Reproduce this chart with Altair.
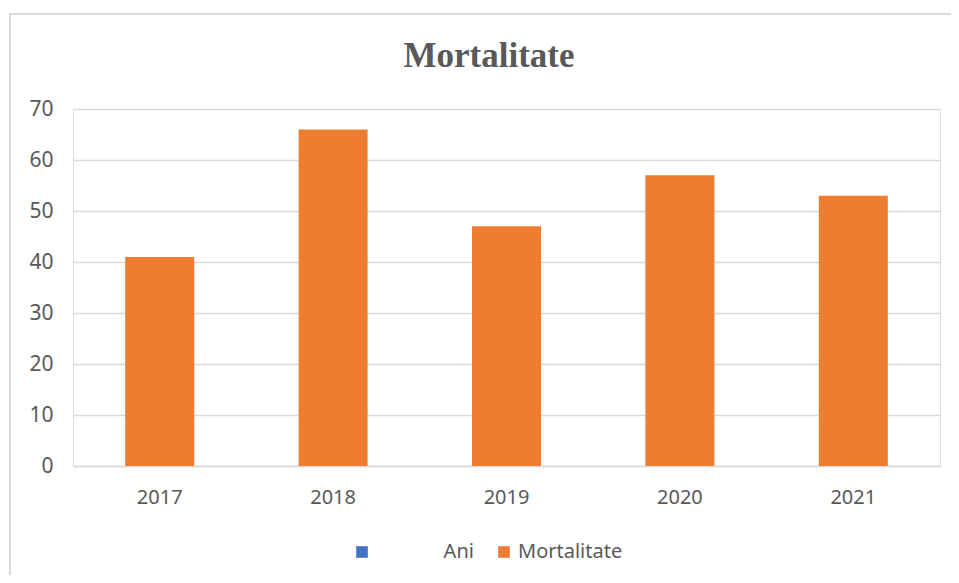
import altair as alt
import pandas as pd

years = ["2017", "2018", "2019", "2020", "2021"]
mortalitate = [41, 66, 47, 57, 53]
series_names = ["\u200b" + "\u00a0" * 13 + "Ani", "Mortalitate"]
series_colors = ["#4472C4", "#ED7D31"]
y_ticks = [0, 10, 20, 30, 40, 50, 60, 70]
chart_title = ["Mortalitate"]

df = pd.DataFrame({"An": years, "Valoare": mortalitate, "Serie": series_names[1]})
df_title = pd.DataFrame({"t": chart_title})

W, H = 867, 357
PAD_L, PAD_T = 65, 101

bars = alt.Chart(df).mark_bar(size=69).encode(
    x=alt.X("An:N", sort=years,
            scale=alt.Scale(paddingInner=0.6, paddingOuter=0.3),
            axis=alt.Axis(title=None, labelAngle=0, ticks=False, grid=False,
                          domainColor="#D9D9D9", domainWidth=1.5,
                          labelPadding=21, labelFontSize=20,
                          labelColor="#595959", labelFont="Noto Sans")),
    y=alt.Y("Valoare:Q",
            scale=alt.Scale(domain=[0, 70], nice=False),
            axis=alt.Axis(title=None, values=y_ticks, ticks=False, domain=False,
                          gridColor="#D9D9D9", gridWidth=1.5,
                          labelPadding=20, labelFontSize=21,
                          labelColor="#595959", labelFont="Noto Sans")),
    color=alt.Color("Serie:N",
                    scale=alt.Scale(domain=series_names, range=series_colors),
                    legend=alt.Legend(title=None, orient="none", direction="horizontal",
                                      legendX=279, legendY=433,
                                      symbolType="square", symbolSize=135,
                                      symbolStrokeWidth=0, labelFontSize=20,
                                      labelColor="#595959", labelFont="Noto Sans",
                                      labelOffset=4, columnPadding=20)),
)

frame = alt.Chart(df).mark_rect(fill=None, stroke="#D9D9D9", strokeWidth=2).encode(
    x=alt.value(-PAD_L + 2), x2=alt.value(W + 60),
    y=alt.value(-PAD_T + 6), y2=alt.value(H + 200),
)

title = alt.Chart(df_title).mark_text(
    font="Liberation Serif", fontSize=35, fontWeight="bold", color="#595959",
    align="center", baseline="alphabetic",
).encode(text="t:N", x=alt.value(416), y=alt.value(-42))

chart = alt.layer(frame, bars, title).properties(
    width=W, height=H,
    autosize=alt.AutoSizeParams(type="none"),
    padding={"left": PAD_L, "top": PAD_T, "right": 11, "bottom": 109},
).configure_view(stroke=None).configure(background="white")

chart.save("out.html", embed_options={"renderer": "svg", "actions": False})
